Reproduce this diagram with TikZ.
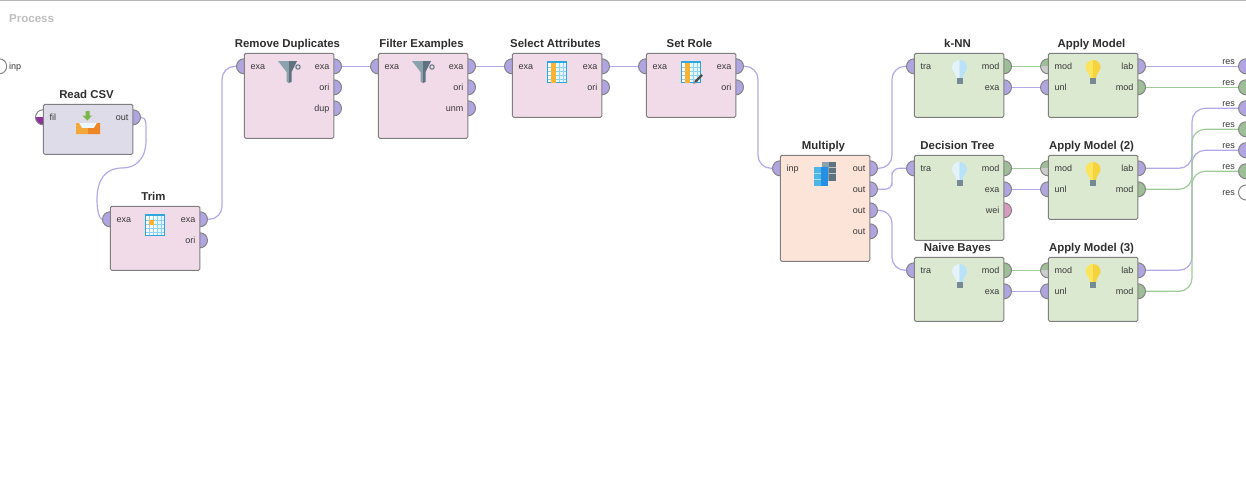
\documentclass[tikz,border=0pt]{standalone}
\usepackage{fontspec}
\setmainfont{Liberation Sans}
\usepackage{tikz}
\usetikzlibrary{calc}

\definecolor{exacol}{HTML}{B0A5E0}
\definecolor{modcol}{HTML}{9DBE96}
\definecolor{weicol}{HTML}{D79BC0}
\definecolor{portline}{HTML}{858585}
\definecolor{boxline}{HTML}{7F7F7F}
\definecolor{wirepurple}{HTML}{B3A9EA}
\definecolor{wiregreen}{HTML}{9FCB98}
\definecolor{dataop}{HTML}{F1DBE8}
\definecolor{readop}{HTML}{DFDCEA}
\definecolor{copyop}{HTML}{FDE4D8}
\definecolor{modelop}{HTML}{DBE9D0}
\definecolor{iconblue}{HTML}{2CA7E0}
\definecolor{iconbluel}{HTML}{4CB6EA}
\definecolor{gridline}{HTML}{8CD2F2}
\definecolor{iconsteel}{HTML}{89A2AE}
\definecolor{iconslate}{HTML}{5D7380}
\definecolor{iconorange}{HTML}{F9B233}
\definecolor{trayleft}{HTML}{F3A83B}
\definecolor{trayright}{HTML}{EE8527}
\definecolor{arrowgreen}{HTML}{7AB648}
\definecolor{bulbyl}{HTML}{FBE55F}
\definecolor{bulbyr}{HTML}{F6D33C}
\definecolor{bulbbl}{HTML}{E4F3FB}
\definecolor{bulbbr}{HTML}{B8E2F7}

\tikzset{
  port/.style={circle,draw=portline,line width=1pt,minimum size=15pt,inner sep=0pt},
  exaport/.style={port,fill=exacol},
  modport/.style={port,fill=modcol},
  weiport/.style={port,fill=weicol},
  emptyport/.style={port,fill=white},
  halfport/.style 2 args={port,fill=#2,path picture={
    \fill[#1] (path picture bounding box.north west) rectangle (path picture bounding box.east);}},
  filport/.style={halfport={white}{violet!70!exacol}},
  unkport/.style={halfport={modcol}{black!20}},
  opbox/.style={draw=boxline,line width=1pt,rounded corners=1.5pt,minimum width=89.6pt,inner sep=0pt,anchor=north west},
  optitle/.style={font=\bfseries\fontsize{11.4}{12}\selectfont,text=black!82,anchor=base,inner sep=0pt},
  portlabel/.style={font=\fontsize{9}{10}\selectfont,text=black!78,anchor=base west,inner sep=0pt},
  portlabelr/.style={portlabel,anchor=base east},
  wire/.style={line width=1.2pt,rounded corners=13pt},
  shortwire/.style={wire,rounded corners=7pt}
}

% name, x, y, height, colour, title, in ports, out ports
\newcommand{\operator}[8]{
  \foreach \lab/\sty [count=\i from 0] in {#7} {
    \node[\sty] (#1-in\the\numexpr\i+1\relax) at (#2,{#3+13.3+21*\i}) {};
  }
  \foreach \lab/\sty [count=\i from 0] in {#8} {
    \node[\sty] (#1-out\the\numexpr\i+1\relax) at (#2+90,{#3+13.3+21*\i}) {};
  }
  \node[opbox,fill=#5,minimum height=#4pt] (#1) at (#2-.2,#3-.2) {};
  \node[optitle] (#1-title) at (#2+43.5,#3-6) {#6};
  \foreach \lab/\sty [count=\i from 0] in {#7} {
    \node[portlabel] (#1-inl\i) at (#2+6.5,{#3+16.5+21*\i}) {\lab};
  }
  \foreach \lab/\sty [count=\i from 0] in {#8} {
    \node[portlabelr] (#1-outl\i) at (#2+85.5,{#3+16.5+21*\i}) {\lab};
  }
}

\newcommand{\gridicon}[2]{
  \begin{scope}[shift={(#1,#2)}]
    \fill[white] (0,0) rectangle (20,22);
    \fill[cyan!10] (10,2) rectangle (20,22);
    \foreach \v in {4.5,8.5,12.5,16.5} \draw[gridline,line width=.8pt] (\v,2) -- (\v,22);
    \foreach \h in {6,10,14,18} \draw[gridline,line width=.8pt] (0,\h) -- (20,\h);
    \draw[iconblue,line width=1pt] (.5,.5) rectangle (19.5,21.5);
    \fill[iconblue] (0,0) rectangle (20,2);
  \end{scope}
}

\newcommand{\funnelicon}[2]{
  \begin{scope}[shift={(#1,#2)}]
    \draw[iconslate,line width=1pt] (20,6) circle[radius=2.2];
    \fill[iconsteel] (0,0) -- (10.7,0) -- (10.7,22) -- (8.5,20.5) -- (8.5,11) -- cycle;
    \fill[iconslate] (10.7,0) -- (19,0) -- (13.5,11) -- (13.5,21) -- (10.7,22) -- cycle;
  \end{scope}
}

\newcommand{\bulbicon}[4]{
  \begin{scope}[shift={(#1,#2)}]
    \fill[#3] (0,0) .. controls (-4.5,0) and (-7.5,3.5) .. (-7.5,7.5)
      .. controls (-7.5,11) and (-3.5,13) .. (-3,18) -- (0,18) -- cycle;
    \fill[#4] (0,0) .. controls (4.5,0) and (7.5,3.5) .. (7.5,7.5)
      .. controls (7.5,11) and (3.5,13) .. (3,18) -- (0,18) -- cycle;
    \fill[iconsteel!85!black] (-3,18) rectangle (3,23.5);
  \end{scope}
}

\begin{document}
\begin{tikzpicture}[x=1pt,y=-1pt]
    \useasboundingbox (0,0) rectangle (1246,491);
    \fill[white] (0,0) rectangle (1246,491);
    \draw[black!28,line width=1.4pt] (0,.6) -- (1246,.6);

    \node[font=\bfseries\fontsize{11.5}{12}\selectfont,text=black!25,anchor=base west,inner sep=0pt] (process) at (9,22.5) {Process};
    \node[emptyport] (inp) at (-.8,66.3) {};
    \node[portlabel] (inp-l) at (9,69.5) {inp};

    \operator{csv}{43}{104}{50}{readop}{Read CSV}{fil/filport}{out/exaport}
    \operator{trim}{110}{206}{64}{dataop}{Trim}{exa/exaport}{exa/exaport,ori/exaport}
    \operator{dup}{244}{53}{85}{dataop}{Remove Duplicates}{exa/exaport}{exa/exaport,ori/exaport,dup/exaport}
    \operator{filter}{378}{53}{85}{dataop}{Filter Examples}{exa/exaport}{exa/exaport,ori/exaport,unm/exaport}
    \operator{sel}{512}{53}{64}{dataop}{Select Attributes}{exa/exaport}{exa/exaport,ori/exaport}
    \operator{role}{646}{53}{64}{dataop}{Set Role}{exa/exaport}{exa/exaport,ori/exaport}
    \operator{mul}{780}{155}{106}{copyop}{Multiply}{inp/exaport}{out/exaport,out/exaport,out/exaport,out/exaport}
    \operator{knn}{914}{53}{64}{modelop}{k-NN}{tra/exaport}{mod/modport,exa/exaport}
    \operator{tree}{914}{155}{85}{modelop}{Decision Tree}{tra/exaport}{mod/modport,exa/exaport,wei/weiport}
    \operator{bayes}{914}{257}{64}{modelop}{Naive Bayes}{tra/exaport}{mod/modport,exa/exaport}
    \operator{app}{1048}{53}{64}{modelop}{Apply Model}{mod/unkport,unl/exaport}{lab/exaport,mod/modport}
    \operator{apptwo}{1048}{155}{64}{modelop}{Apply Model (2)}{mod/unkport,unl/exaport}{lab/exaport,mod/modport}
    \operator{appthree}{1048}{257}{64}{modelop}{Apply Model (3)}{mod/unkport,unl/exaport}{lab/exaport,mod/modport}

    \foreach \y/\sty [count=\i] in {66.3/exaport,87.3/modport,108.3/exaport,129.3/modport,150.3/exaport,171.3/modport,192.5/emptyport} {
        \node[\sty] (res\i) at (1246,\y) {};
    };
    \foreach \y [count=\i] in {64.5,85.5,106.5,127.5,148.5,169.5,195.5} {
        \node[portlabelr] (res\i-l) at (1235,\y) {res};
    };

    % icons
    \begin{scope}[shift={(76,111)}]
        \fill[arrowgreen] (9.5,0) -- (13.5,0) -- (13.5,4.5) -- (16,4.5) -- (11.5,9.5) -- (6.5,4.5) -- (9.5,4.5) -- cycle;
        \fill[black!14!cyan!8] (3,12) -- (21,12) -- (18,17) -- (6,17) -- cycle;
        \fill[trayleft] (0,12) -- (3,12) -- (6,17) -- (12,17) -- (12,23) -- (0,23) -- cycle;
        \fill[trayright] (12,17) -- (18,17) -- (21,12) -- (24,12) -- (24,23) -- (12,23) -- cycle;
    \end{scope}
    \gridicon{145}{214}
    \fill[iconorange] (149,220) rectangle (153.5,224.5);
    \gridicon{547}{61}
    \fill[iconorange] (551,63) rectangle (556,83);
    \gridicon{681}{61}
    \fill[iconorange] (685,63) rectangle (690,83);
    \draw[black!70,line width=2.4pt] (695,82) -- (702,75);
    \fill[black!45] (693.2,84) -- (694,81) -- (696,83) -- cycle;
    \funnelicon{278}{61}
    \funnelicon{412}{61}
    \begin{scope}[shift={(814,162)}]
        \fill[iconsteel] (8,0) rectangle (15,19);
        \fill[iconslate] (15,0) rectangle (22,19);
        \fill[iconbluel] (0,5) rectangle (7,24);
        \fill[iconblue!85!blue] (7,5) rectangle (14,24);
        \foreach \h in {11,17} \draw[white!60!iconblue,line width=.5pt] (0,\h) -- (7,\h);
        \foreach \h in {5,11} \draw[white!60!iconslate,line width=.5pt] (15,\h) -- (22,\h);
    \end{scope}
    \bulbicon{959.5}{60}{bulbbl}{bulbbr}
    \bulbicon{959.5}{162}{bulbbl}{bulbbr}
    \bulbicon{959.5}{264}{bulbbl}{bulbbr}
    \bulbicon{1093}{60}{bulbyl}{bulbyr}
    \bulbicon{1093}{162}{bulbyl}{bulbyr}
    \bulbicon{1093}{264}{bulbyl}{bulbyr}

    % connectors
    \draw[line width=1.2pt,wirepurple] (csv-out1.east) .. controls (147,117) and (146,125) .. (146,140)
        .. controls (146,160) and (135,168) .. (122,168)
        .. controls (105,168) and (97,180) .. (97,200)
        .. controls (97,212) and (100,219) .. (trim-in1.west);
    \foreach \a/\b in {dup-out1/filter-in1,filter-out1/sel-in1,sel-out1/role-in1,knn-out2/app-in2,tree-out2/apptwo-in2,bayes-out2/appthree-in2,app-out1/res1} {
        \draw[wire,wirepurple] (\a.east) -- (\b.west);
    };
    \foreach \a/\b in {knn-out1/app-in1,tree-out1/apptwo-in1,bayes-out1/appthree-in1,app-out2/res2} {
        \draw[wire,wiregreen] (\a.east) -- (\b.west);
    };
    \foreach \a/\b in {trim-out1/dup-in1,role-out1/mul-in1,mul-out1/knn-in1,mul-out3/bayes-in1,apptwo-out1/res3,appthree-out1/res5} {
        \draw[wire,wirepurple] (\a.east) -| ($(\a.east)!.5!(\b.west)$) |- (\b.west);
    };
    \draw[shortwire,wirepurple] (mul-out2.east) -| ($(mul-out2.east)!.5!(tree-in1.west)$) |- (tree-in1.west);
    \foreach \a/\b in {apptwo-out2/res4,appthree-out2/res6} {
        \draw[wire,wiregreen] (\a.east) -| ($(\a.east)!.5!(\b.west)$) |- (\b.west);
    };
\end{tikzpicture}
\end{document}
